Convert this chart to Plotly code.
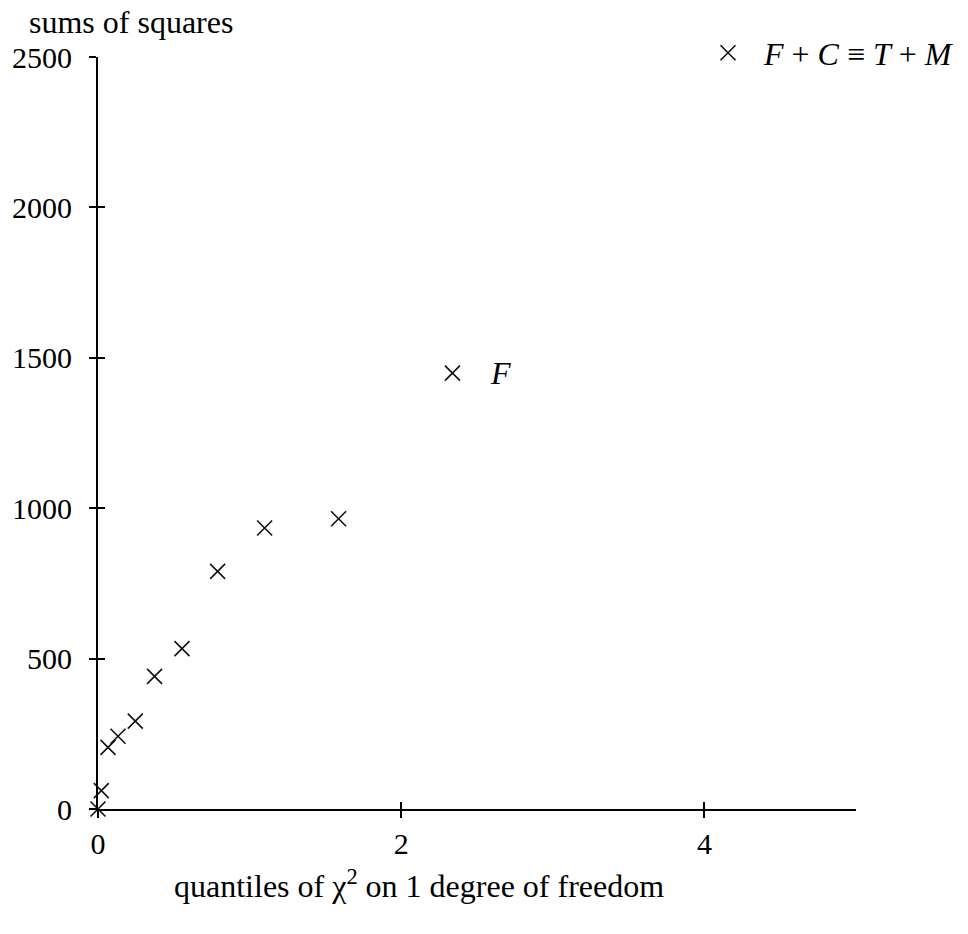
import plotly.graph_objects as go

# data
chi2_quantiles = [0.0, 0.022, 0.066, 0.132, 0.246, 0.373, 0.554, 0.789, 1.099, 1.587, 2.338]
sums_of_squares = [0, 61, 205, 242, 292, 441, 533, 790, 934, 965, 1449]
point_label = "<i>F</i>"
label_index = 10
series_name = "\u2002<i>F</i> + <i>C</i> \u2261 <i>T</i> + <i>M</i>"
x_ticks = [0, 2, 4]
y_ticks = [0, 500, 1000, 1500, 2000, 2500]

FONT = "Liberation Serif"
FS = 30   # tick labels
TS = 32   # other texts

fig = go.Figure()
fig.add_trace(go.Scatter(
    x=chi2_quantiles, y=sums_of_squares, mode="markers", name=series_name,
    marker=dict(symbol="x-thin", size=15, color="#111111",
                line=dict(width=1.6, color="#111111")),
    cliponaxis=False,
))
# invisible trace to carry the overlay axes (inside half of the cross ticks)
fig.add_trace(go.Scatter(
    x=chi2_quantiles, y=sums_of_squares, xaxis="x2", yaxis="y2", mode="markers",
    marker=dict(opacity=0), showlegend=False, hoverinfo="skip",
))

axis_common = dict(showgrid=False, zeroline=False, showline=True, linecolor="black",
                   linewidth=2, tickcolor="black", tickwidth=2, ticklen=7,
                   automargin=False,
                   tickfont=dict(family=FONT, size=FS, color="black"))

fig.update_layout(
    width=952, height=918,
    margin=dict(l=90, r=104, t=49, b=116.5, autoexpand=False),
    paper_bgcolor="white", plot_bgcolor="white",
    font=dict(family=FONT, size=FS, color="black"),
    xaxis=dict(range=[0, 5], tickvals=x_ticks, ticks="outside", **axis_common),
    yaxis=dict(range=[0, 2500], tickvals=y_ticks, ticks="outside",
               ticklabelstandoff=11, **axis_common),
    xaxis2=dict(range=[0, 5], tickvals=x_ticks, ticks="inside", overlaying="x",
                showticklabels=False, **axis_common),
    yaxis2=dict(range=[0, 2500], tickvals=y_ticks, ticks="inside", overlaying="y",
                showticklabels=False, **axis_common),
    showlegend=True,
    legend=dict(xref="container", yref="container", x=0.7353, y=0.951,
                xanchor="left", yanchor="middle",
                bgcolor="rgba(0,0,0,0)", font=dict(family=FONT, size=TS, color="black")),
)

fig.add_annotation(x=chi2_quantiles[label_index], y=sums_of_squares[label_index],
                   text=point_label, showarrow=False, xshift=48, yanchor="middle",
                   font=dict(family=FONT, size=TS, color="black"))
fig.add_annotation(xref="paper", yref="paper", x=0.423, y=-0.1003, showarrow=False,
                   xanchor="center", yanchor="middle",
                   text="quantiles of \u03c7<sup>2</sup> on 1 degree of freedom",
                   font=dict(family=FONT, size=TS, color="black"))
fig.add_annotation(xref="paper", yref="paper", x=-0.0937, y=1.0465, xanchor="left",
                   yanchor="middle", showarrow=False, text="sums of squares",
                   font=dict(family=FONT, size=TS, color="black"))

fig.write_html("out.html")
